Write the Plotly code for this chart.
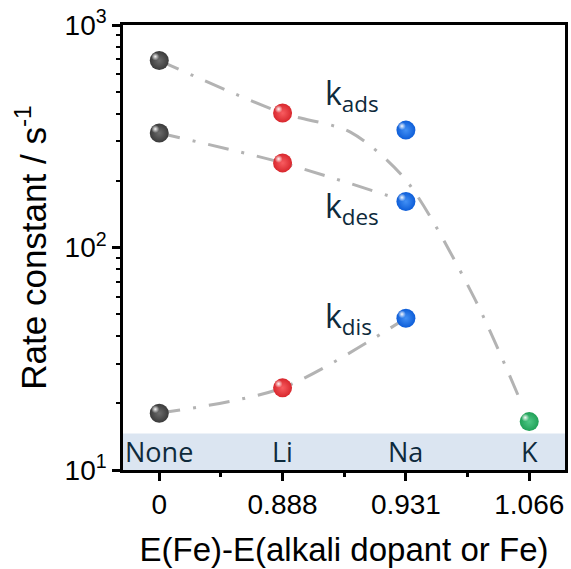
import math
import plotly.graph_objects as go

# --- data -------------------------------------------------------------
dopants = ["None", "Li", "Na", "K"]
energy_labels = ["0", "0.888", "0.931", "1.066"]
positions = [0, 1, 2, 3]

k_ads = [692, 402, 337, 16.5]
k_des = [327, 240, 161, None]
k_dis = [18.0, 23.4, 48.1, None]

# guide-to-the-eye curve for k_ads (passes below the Na value and drops to K)
ads_guide_x = [0, 1, 1.55, 2, 2.55, 2.92]
ads_guide_y = [692, 402, 330, 201, 60, 21]

ball_edge = {"None": "#3a3a3a", "Li": "#d8272d", "Na": "#0d5dd8", "K": "#20a057"}
ball_core = {"None": "#6c6c6c", "Li": "#f85c60", "Na": "#4290f5", "K": "#4fc886"}

# --- layout constants -------------------------------------------------
X_RANGE = [-0.294, 3.29]
Y_RANGE = [1, 3]
PX_PER_X = 445 / (X_RANGE[1] - X_RANGE[0])
PX_PER_DEC = 445 / (Y_RANGE[1] - Y_RANGE[0])
HL_SHIFT = 4  # highlight offset in pixels (up-left)

GUIDE = dict(color="#b3b3b3", width=3, dash="21px,13px,3px,13px", shape="spline", smoothing=0.8)
AX_FONT = "Liberation Sans, Arial, sans-serif"
LBL_FONT = "Open Sans, Noto Sans, sans-serif"
NAVY = "#0e2a3c"

fig = go.Figure()

# guide curves
fig.add_trace(go.Scatter(x=ads_guide_x, y=ads_guide_y, mode="lines", line=GUIDE,
                         hoverinfo="skip", showlegend=False))
for series in (k_des, k_dis):
    xs = [p for p, v in zip(positions, series) if v is not None]
    ys = [v for v in series if v is not None]
    fig.add_trace(go.Scatter(x=xs, y=ys, mode="lines", line=GUIDE,
                             hoverinfo="skip", showlegend=False))

# spheres
for series in (k_ads, k_des, k_dis):
    for p, d, v in zip(positions, dopants, series):
        if v is None:
            continue
        fig.add_trace(go.Scatter(
            x=[p], y=[v], mode="markers", showlegend=False,
            marker=dict(size=19, color=ball_edge[d], line=dict(width=0),
                        gradient=dict(type="radial", color=ball_core[d]))))
        fig.add_trace(go.Scatter(
            x=[p], y=[v], mode="markers", showlegend=False, xaxis="x2", yaxis="y2",
            hoverinfo="skip",
            marker=dict(size=8, color="rgba(255,255,255,0)", line=dict(width=0),
                        gradient=dict(type="radial", color="rgba(255,255,255,0.95)"))))

# dopant band along the bottom (height given by the rate value where it ends)
band_top = 14.6
band_frac = (math.log10(band_top) - Y_RANGE[0]) / (Y_RANGE[1] - Y_RANGE[0])
fig.add_shape(type="rect", xref="paper", yref="paper", x0=0, x1=1, y0=0, y1=band_frac,
              fillcolor="#dbe5f1", line=dict(width=0), layer="below")
for p, d in zip(positions, dopants):
    fig.add_annotation(x=p, y=1.083, xref="x", yref="y", text=d, showarrow=False,
                       font=dict(family=LBL_FONT, size=27, color=NAVY),
                       xanchor="center", yanchor="middle")

# rate-constant labels
for txt, ly in (("k<sub>ads</sub>", 2.685), ("k<sub>des</sub>", 2.178), ("k<sub>dis</sub>", 1.683)):
    fig.add_annotation(x=1.33, y=ly, xref="x", yref="y", text=txt, showarrow=False,
                       font=dict(family=LBL_FONT, size=32, color=NAVY),
                       xanchor="left", yanchor="middle")

dx = HL_SHIFT / PX_PER_X
dy = HL_SHIFT / PX_PER_DEC

fig.update_layout(
    width=571, height=569,
    margin=dict(l=123, r=3, t=25, b=99),
    paper_bgcolor="white", plot_bgcolor="rgba(0,0,0,0)",
    font=dict(family=AX_FONT, color="black"),
    xaxis=dict(
        range=X_RANGE, tickvals=positions, ticktext=energy_labels,
        ticks="outside", ticklen=8, tickwidth=2.5, tickcolor="black",
        showline=True, linecolor="black", linewidth=2.5, mirror=True,
        showgrid=False, zeroline=False,
        tickfont=dict(size=28, family=AX_FONT),
        minor=dict(tickvals=[0.5, 1.5, 2.5], ticks="outside", ticklen=4,
                   tickwidth=2.5, tickcolor="black", showgrid=False),
        title=dict(text="E(Fe)-E(alkali dopant or Fe)", font=dict(size=33, family=AX_FONT),
                   standoff=19),
    ),
    yaxis=dict(
        type="log", range=Y_RANGE,
        tickvals=[10, 100, 1000], ticktext=["10<sup>1</sup>", "10<sup>2</sup>", "10<sup>3</sup>"],
        ticks="outside", ticklen=8, tickwidth=2.5, tickcolor="black",
        showline=True, linecolor="black", linewidth=2.5, mirror=True,
        showgrid=False, zeroline=False,
        tickfont=dict(size=28, family=AX_FONT),
        minor=dict(tickvals=[m * 10 ** e for e in (1, 2) for m in range(2, 10)],
                   ticks="outside", ticklen=4, tickwidth=2, tickcolor="black", showgrid=False),
        title=dict(text="Rate constant / s<sup>-1</sup>", font=dict(size=35, family=AX_FONT),
                   standoff=8),
    ),
    xaxis2=dict(range=[X_RANGE[0] + dx, X_RANGE[1] + dx], overlaying="x", visible=False),
    yaxis2=dict(type="log", range=[Y_RANGE[0] - dy, Y_RANGE[1] - dy], overlaying="y",
                visible=False),
)

fig.write_html("out.html")
